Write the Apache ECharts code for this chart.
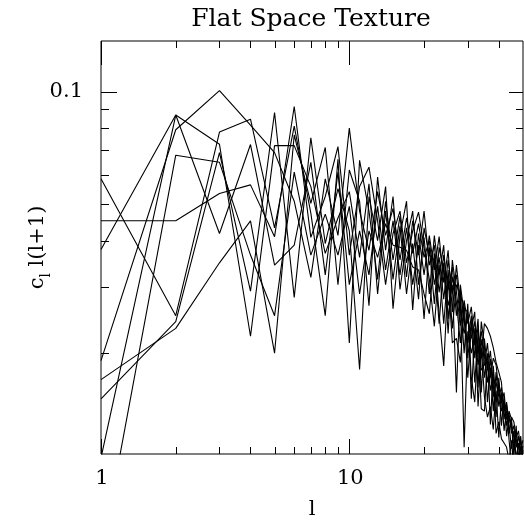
<!DOCTYPE html>
<html>
<head>
<meta charset="utf-8">
<script src="https://cdn.jsdelivr.net/npm/echarts@6/dist/echarts.min.js"></script>
<style>
  html, body { margin: 0; padding: 0; background: #fff; }
  #chart { width: 524px; height: 525px; }
</style>
</head>
<body>
<div id="chart"></div>
<script>
// multipole l
const ells = [1, 2, 3, 4, 5, 6, 7, 8, 9, 10,
  11, 12, 13, 14, 15, 16, 17, 18, 19, 20,
  21, 22, 23, 24, 25, 26, 27, 28, 29, 30,
  31, 32, 33, 34, 35, 36, 37, 38, 39, 40,
  41, 42, 43, 44, 45, 46, 47, 48, 49, 50];

// c_l l(l+1), one array per realisation
const runA = [0.0191, 0.0792, 0.1008, 0.0815, 0.0688, 0.0510, 0.0319, 0.0585, 0.0413, 0.0800,
  0.0480, 0.0377, 0.0541, 0.0413, 0.0488, 0.0355, 0.0460, 0.0370, 0.0444, 0.0361,
  0.0400, 0.0305, 0.0361, 0.0279, 0.0355, 0.0288, 0.0324, 0.0258, 0.0226, 0.0252,
  0.0219, 0.0243, 0.0203, 0.0229, 0.0198, 0.0167, 0.0193, 0.0153, 0.0167, 0.0153,
  0.0162, 0.0140, 0.0146, 0.0133, 0.0127, 0.0121, 0.0117, 0.0112, 0.0117, 0.0107];
const runB = [0.0586, 0.0252, 0.0781, 0.0845, 0.0433, 0.0810, 0.0474, 0.0252, 0.0660, 0.0213,
  0.0656, 0.0480, 0.0315, 0.0510, 0.0355, 0.0465, 0.0320, 0.0452, 0.0366, 0.0480,
  0.0344, 0.0389, 0.0291, 0.0366, 0.0296, 0.0340, 0.0252, 0.0296, 0.0243, 0.0213,
  0.0252, 0.0194, 0.0237, 0.0180, 0.0186, 0.0213, 0.0172, 0.0194, 0.0186, 0.0159,
  0.0147, 0.0157, 0.0133, 0.0138, 0.0122, 0.0128, 0.0112, 0.0120, 0.0106, 0.0113];
const runC = [0.0151, 0.0243, 0.0688, 0.0293, 0.0881, 0.0282, 0.0754, 0.0393, 0.0551, 0.0425,
  0.0181, 0.0525, 0.0400, 0.0558, 0.0263, 0.0413, 0.0510, 0.0261, 0.0418, 0.0324,
  0.0413, 0.0334, 0.0410, 0.0309, 0.0377, 0.0258, 0.0344, 0.0274, 0.0112, 0.0229,
  0.0200, 0.0223, 0.0186, 0.0218, 0.0172, 0.0200, 0.0129, 0.0185, 0.0148, 0.0172,
  0.0140, 0.0148, 0.0128, 0.0140, 0.0133, 0.0112, 0.0124, 0.0105, 0.0112, 0.0099];
const runD = [0.0170, 0.0233, 0.0349, 0.0452, 0.0200, 0.0767, 0.0503, 0.0710, 0.0305, 0.0618,
  0.0510, 0.0268, 0.0592, 0.0377, 0.0525, 0.0296, 0.0400, 0.0480, 0.0305, 0.0408,
  0.0288, 0.0413, 0.0324, 0.0389, 0.0247, 0.0320, 0.0274, 0.0213, 0.0271, 0.0194,
  0.0243, 0.0167, 0.0226, 0.0194, 0.0240, 0.0233, 0.0222, 0.0207, 0.0189, 0.0178,
  0.0167, 0.0133, 0.0148, 0.0122, 0.0135, 0.0131, 0.0119, 0.0124, 0.0110, 0.0117];
const runE = [0.0452, 0.0452, 0.0535, 0.0564, 0.0410, 0.0914, 0.0408, 0.0525, 0.0714, 0.0366,
  0.0558, 0.0629, 0.0452, 0.0305, 0.0418, 0.0480, 0.0349, 0.0425, 0.0477, 0.0384,
  0.0315, 0.0236, 0.0344, 0.0240, 0.0334, 0.0233, 0.0305, 0.0288, 0.0200, 0.0271,
  0.0151, 0.0233, 0.0162, 0.0243, 0.0210, 0.0148, 0.0183, 0.0140, 0.0178, 0.0144,
  0.0157, 0.0124, 0.0140, 0.0128, 0.0111, 0.0124, 0.0103, 0.0115, 0.0097, 0.0110];
const runF = [0.0379, 0.0867, 0.0724, 0.0222, 0.0718, 0.0718, 0.0558, 0.0370, 0.0460, 0.0541,
  0.0361, 0.0568, 0.0288, 0.0480, 0.0315, 0.0438, 0.0288, 0.0393, 0.0279, 0.0433,
  0.0366, 0.0355, 0.0240, 0.0349, 0.0226, 0.0355, 0.0291, 0.0237, 0.0277, 0.0240,
  0.0266, 0.0210, 0.0247, 0.0157, 0.0219, 0.0180, 0.0203, 0.0165, 0.0135, 0.0167,
  0.0128, 0.0153, 0.0120, 0.0135, 0.0130, 0.0106, 0.0128, 0.0100, 0.0120, 0.0103];
const runG = [0.0105, 0.0867, 0.0418, 0.0723, 0.0344, 0.0389, 0.0648, 0.0324, 0.0610, 0.0305,
  0.0425, 0.0324, 0.0494, 0.0334, 0.0452, 0.0324, 0.0433, 0.0305, 0.0389, 0.0247,
  0.0384, 0.0271, 0.0384, 0.0332, 0.0268, 0.0305, 0.0157, 0.0305, 0.0255, 0.0172,
  0.0233, 0.0258, 0.0144, 0.0207, 0.0153, 0.0135, 0.0144, 0.0125, 0.0159, 0.0119,
  0.0153, 0.0146, 0.0142, 0.0117, 0.0100, 0.0117, 0.0108, 0.0108, 0.0102, 0.0094];
const runH = [0.0057, 0.0677, 0.0648, 0.0366, 0.0252, 0.0610, 0.0366, 0.0471, 0.0366, 0.0494,
  0.0288, 0.0425, 0.0361, 0.0444, 0.0389, 0.0384, 0.0377, 0.0340, 0.0334, 0.0288,
  0.0255, 0.0370, 0.0255, 0.0185, 0.0319, 0.0213, 0.0219, 0.0189, 0.0263, 0.0258,
  0.0172, 0.0148, 0.0215, 0.0142, 0.0140, 0.0191, 0.0159, 0.0175, 0.0122, 0.0131,
  0.0118, 0.0115, 0.0112, 0.0103, 0.0117, 0.0097, 0.0094, 0.0092, 0.0089, 0.0086];

// ticks and tick labels
const xMajorTicks = [1, 10];
const xMinorTicks = [2, 3, 4, 5, 6, 7, 8, 9, 20, 30, 40];
const yMajorTicks = [0.1];
const yMinorTicks = [0.02, 0.03, 0.04, 0.05, 0.06, 0.07, 0.08, 0.09];
const xTickLabels = ['1', '10'];
const yTickLabels = ['0.1'];

const X_MIN = 1;
const X_MAX = 50.06;
const Y_MIN = 0.01075;
const Y_MAX = 0.1368;
const FONT = '"DejaVu Serif", "Liberation Serif", serif';

const runs = [runA, runB, runC, runD, runE, runF, runG, runH];

const lineSeries = runs.map(vals => ({
  type: 'line',
  data: ells.map((l, i) => [l, vals[i]]),
  symbol: 'none',
  clip: true,
  silent: true,
  lineStyle: { color: '#000', width: 1.1 }
}));

function crisp(v) {
  return Math.round(v) + 0.5;
}

function tickLine(x1, y1, x2, y2) {
  return {
    type: 'line',
    shape: { x1, y1, x2, y2 },
    style: { stroke: '#000', lineWidth: 1 }
  };
}

const xTickSeries = {
  type: 'custom',
  silent: true,
  data: xMajorTicks.map(v => [v, Y_MIN, 1]).concat(xMinorTicks.map(v => [v, Y_MIN, 0])),
  encode: { x: 0, y: 1 },
  renderItem(params, api) {
    const cs = params.coordSys;
    const major = api.value(2) === 1;
    const px = crisp(api.coord([api.value(0), Y_MIN])[0]);
    const bottom = cs.y + cs.height;
    const lenBottom = major ? 15 : 7;
    const lenTop = major ? 24 : 7;
    return {
      type: 'group',
      children: [
        tickLine(px, bottom, px, bottom - lenBottom),
        tickLine(px, cs.y, px, cs.y + lenTop)
      ]
    };
  }
};

const yTickSeries = {
  type: 'custom',
  silent: true,
  data: yMajorTicks.map(v => [X_MIN, v, 1]).concat(yMinorTicks.map(v => [X_MIN, v, 0])),
  encode: { x: 0, y: 1 },
  renderItem(params, api) {
    const cs = params.coordSys;
    const major = api.value(2) === 1;
    const py = crisp(api.coord([X_MIN, api.value(1)])[1]);
    const right = cs.x + cs.width;
    const lenLeft = major ? 16 : 8;
    const lenRight = major ? 14 : 7;
    return {
      type: 'group',
      children: [
        tickLine(cs.x, py, cs.x + lenLeft, py),
        tickLine(right, py, right - lenRight, py)
      ]
    };
  }
};

const labelSeries = {
  type: 'custom',
  silent: true,
  data: xMajorTicks.map((v, i) => [v, Y_MIN, 0, i]).concat(yMajorTicks.map((v, i) => [X_MIN, v, 1, i])),
  encode: { x: 0, y: 1 },
  renderItem(params, api) {
    const onY = api.value(2) === 1;
    const idx = api.value(3);
    const p = api.coord([api.value(0), api.value(1)]);
    if (onY) {
      return {
        type: 'text',
        style: {
          text: yTickLabels[idx], x: p[0] - 18, y: p[1],
          align: 'right', verticalAlign: 'middle',
          fontSize: 21, fontFamily: FONT, fill: '#000'
        }
      };
    }
    return {
      type: 'text',
      style: {
        text: xTickLabels[idx], x: p[0] + 1, y: p[1] + 25,
        align: 'center', verticalAlign: 'middle',
        fontSize: 21, fontFamily: FONT, fill: '#000'
      }
    };
  }
};

const chart = echarts.init(document.getElementById('chart'), null, { renderer: 'canvas' });

chart.setOption({
  animation: false,
  backgroundColor: '#fff',
  title: {
    text: 'Flat Space Texture',
    left: 306,
    top: 2,
    textAlign: 'center',
    textStyle: { fontFamily: FONT, fontSize: 25, fontWeight: 'normal', color: '#000' }
  },
  grid: {
    left: 101,
    top: 41,
    width: 422,
    height: 422,
    show: true,
    borderColor: '#000',
    borderWidth: 1,
    backgroundColor: 'transparent'
  },
  xAxis: {
    type: 'log',
    logBase: 10,
    min: X_MIN,
    max: X_MAX,
    name: 'l',
    nameLocation: 'middle',
    nameGap: 45,
    nameTextStyle: { fontFamily: FONT, fontSize: 21, color: '#000' },
    axisLine: { show: false },
    axisTick: { show: false },
    axisLabel: { show: false },
    splitLine: { show: false }
  },
  yAxis: {
    type: 'log',
    logBase: 10,
    min: Y_MIN,
    max: Y_MAX,
    name: '{a|c}{s|l}{a| l(l+1)}',
    nameLocation: 'middle',
    nameRotate: 90,
    nameGap: 48,
    nameTextStyle: {
      rich: {
        a: { fontFamily: FONT, fontSize: 21, color: '#000', lineHeight: 30, verticalAlign: 'middle' },
        s: { fontFamily: FONT, fontSize: 14, color: '#000', lineHeight: 30, verticalAlign: 'bottom' }
      }
    },
    axisLine: { show: false },
    axisTick: { show: false },
    axisLabel: { show: false },
    splitLine: { show: false }
  },
  series: lineSeries.concat([xTickSeries, yTickSeries, labelSeries])
});
</script>
</body>
</html>
